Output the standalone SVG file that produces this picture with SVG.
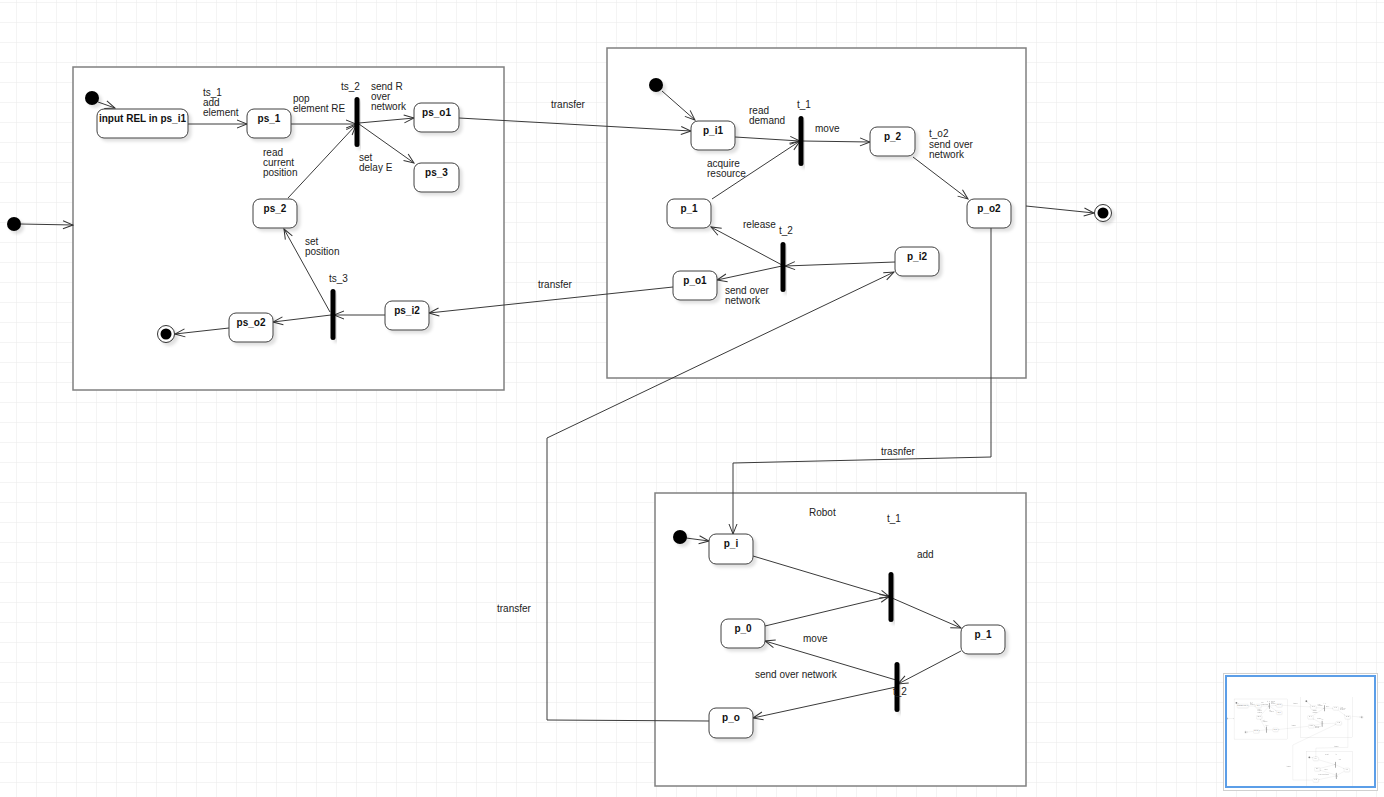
<svg xmlns="http://www.w3.org/2000/svg" xmlns:xlink="http://www.w3.org/1999/xlink" width="1384" height="797" viewBox="0 0 1384 797">
  <defs>
    <pattern id="grid" x="16" y="2" width="20" height="20" patternUnits="userSpaceOnUse">
      <path d="M0,0 H20 M0,0 V20" fill="none" stroke="#e9e9e9" stroke-width="1"/>
    </pattern>
    <filter id="shadow" x="-30%" y="-30%" width="160%" height="160%">
      <feDropShadow dx="3" dy="3" stdDeviation="1.5" flood-color="#000" flood-opacity="0.12"/>
    </filter>
    <marker id="open" markerWidth="12" markerHeight="10" refX="11" refY="5" orient="auto" markerUnits="userSpaceOnUse">
      <path d="M1,1 L11,5 L1,9" fill="none" stroke="#333" stroke-width="1"/>
    </marker>
    <clipPath id="miniClip">
      <rect x="1227" y="677" width="147" height="109"/>
    </clipPath>
  </defs>
  <style>
    .frame { fill: #fff; stroke: #808080; stroke-width: 1.5; }
    .node rect.box { fill: #fff; stroke: #404040; stroke-width: 1; filter: url(#shadow); }
    .node text { font-family: "Liberation Sans", Arial, sans-serif; font-size: 10px; font-weight: bold; fill: #111; text-anchor: middle; }
    .bar { fill: #000; filter: url(#shadow); }
    .dot { fill: #000; filter: url(#shadow); }
    .ring { fill: #fff; stroke: #333; stroke-width: 1; filter: url(#shadow); }
    .edge { fill: none; stroke: #3a3a3a; stroke-width: 1; marker-end: url(#open); }
    .plain { fill: none; stroke: #3a3a3a; stroke-width: 1; }
    .lbl { font-family: "Liberation Sans", Arial, sans-serif; font-size: 10px; fill: #222; }
  </style>

  <!-- canvas background with grid -->
  <rect x="0" y="0" width="1384" height="797" fill="#fff"/>
  <rect x="0" y="0" width="1384" height="797" fill="url(#grid)"/>

  <g id="diagram">
    <!-- composite state frames -->
    <g id="frames">
      <rect id="frame-producer" class="frame" x="73" y="67" width="431" height="323"/>
      <rect id="frame-plant" class="frame" x="607" y="48" width="419" height="330"/>
      <rect id="frame-robot" class="frame" x="655" y="493" width="371" height="293"/>
    </g>

    <!-- transitions -->
    <g id="connectors">
      <line class="edge" x1="21" y1="224" x2="73" y2="225"/>
      <line class="edge" x1="98" y1="102" x2="115" y2="108"/>
      <line class="edge" x1="188" y1="124" x2="247" y2="124"/>
      <line class="edge" x1="291" y1="124" x2="356" y2="124"/>
      <line class="edge" x1="359" y1="123" x2="414" y2="118"/>
      <line class="edge" x1="359" y1="124" x2="414" y2="163"/>
      <line class="edge" x1="288" y1="198" x2="356" y2="125"/>
      <line class="edge" x1="385" y1="315" x2="334" y2="315"/>
      <line class="edge" x1="331" y1="315" x2="273" y2="322"/>
      <line class="edge" x1="330" y1="312" x2="284" y2="229"/>
      <line class="edge" x1="229" y1="328" x2="175" y2="334"/>
      <line class="edge" x1="459" y1="118" x2="691" y2="131"/>
      <line class="edge" x1="673" y1="287" x2="429" y2="313"/>

      <line class="edge" x1="662" y1="91" x2="695" y2="120"/>
      <line class="edge" x1="735" y1="137" x2="800" y2="141"/>
      <line class="edge" x1="712" y1="199" x2="800" y2="141"/>
      <line class="edge" x1="803" y1="141" x2="870" y2="142"/>
      <line class="edge" x1="913" y1="157" x2="968" y2="199"/>
      <line class="edge" x1="1026" y1="206" x2="1094" y2="213"/>
      <line class="edge" x1="782" y1="265" x2="711" y2="227"/>
      <line class="edge" x1="895" y1="262" x2="785" y2="266"/>
      <line class="edge" x1="782" y1="266" x2="717" y2="280"/>
      <polyline class="edge" points="709,721 547,720 547,438 894,272"/>
      <polyline class="edge" points="991,228 991,457 733,463 733,534"/>

      <line class="edge" x1="686" y1="538" x2="709" y2="541"/>
      <line class="edge" x1="753" y1="556" x2="890" y2="597"/>
      <line class="edge" x1="765" y1="626" x2="890" y2="596"/>
      <line class="edge" x1="892" y1="598" x2="961" y2="628"/>
      <line class="edge" x1="961" y1="651" x2="898" y2="684"/>
      <line class="edge" x1="896" y1="680" x2="765" y2="641"/>
      <line class="edge" x1="896" y1="687" x2="753" y2="718"/>
    </g>

    <!-- pseudo states -->
    <g id="init-main"><circle class="dot" cx="14" cy="224" r="7"/></g>
    <g id="init-producer"><circle class="dot" cx="92" cy="98" r="7"/></g>
    <g id="init-plant"><circle class="dot" cx="656" cy="85" r="7"/></g>
    <g id="init-robot"><circle class="dot" cx="680" cy="537" r="7"/></g>
    <g id="final-producer"><circle class="ring" cx="166" cy="334" r="8.5"/><circle cx="166" cy="334" r="5.5" fill="#000"/></g>
    <g id="final-main"><circle class="ring" cx="1103" cy="213" r="8.5"/><circle cx="1103" cy="213" r="5.5" fill="#000"/></g>

    <!-- fork / join bars -->
    <g id="ts_2"><rect class="bar" x="354.5" y="97" width="5" height="50" rx="2.5"/></g>
    <g id="ts_3"><rect class="bar" x="330.5" y="289" width="5" height="51" rx="2.5"/></g>
    <g id="t_1"><rect class="bar" x="798.5" y="116" width="5" height="50" rx="2.5"/></g>
    <g id="t_2"><rect class="bar" x="780.5" y="242" width="5" height="50" rx="2.5"/></g>
    <g id="robot-t_1"><rect class="bar" x="888.5" y="572" width="5" height="50" rx="2.5"/></g>
    <g id="robot-t_2"><rect class="bar" x="894.5" y="662" width="5" height="50" rx="2.5"/></g>

    <!-- states: producer -->
    <g id="input-rel" class="node"><rect class="box" x="97" y="109" width="91" height="29" rx="7"/><text x="142.5" y="122">input REL in ps_i1</text></g>
    <g id="ps_1" class="node"><rect class="box" x="247" y="109" width="44" height="29" rx="7"/><text x="269" y="122">ps_1</text></g>
    <g id="ps_o1" class="node"><rect class="box" x="414" y="103" width="45" height="29" rx="7"/><text x="436.5" y="116">ps_o1</text></g>
    <g id="ps_3" class="node"><rect class="box" x="414" y="163" width="45" height="29" rx="7"/><text x="436.5" y="176">ps_3</text></g>
    <g id="ps_2" class="node"><rect class="box" x="253" y="199" width="44" height="29" rx="7"/><text x="275" y="212">ps_2</text></g>
    <g id="ps_o2" class="node"><rect class="box" x="229" y="313" width="44" height="29" rx="7"/><text x="251" y="326">ps_o2</text></g>
    <g id="ps_i2" class="node"><rect class="box" x="385" y="301" width="44" height="29" rx="7"/><text x="407" y="314">ps_i2</text></g>

    <!-- states: plant -->
    <g id="p_i1" class="node"><rect class="box" x="691" y="121" width="44" height="29" rx="7"/><text x="713" y="134">p_i1</text></g>
    <g id="p_2" class="node"><rect class="box" x="870" y="127" width="45" height="29" rx="7"/><text x="892.5" y="140">p_2</text></g>
    <g id="p_o2" class="node"><rect class="box" x="967" y="199" width="44" height="29" rx="7"/><text x="989" y="212">p_o2</text></g>
    <g id="p_1" class="node"><rect class="box" x="667" y="199" width="44" height="29" rx="7"/><text x="689" y="212">p_1</text></g>
    <g id="p_i2" class="node"><rect class="box" x="895" y="247" width="44" height="29" rx="7"/><text x="917" y="260">p_i2</text></g>
    <g id="p_o1" class="node"><rect class="box" x="673" y="271" width="44" height="29" rx="7"/><text x="695" y="284">p_o1</text></g>

    <!-- states: robot -->
    <g id="robot-p_i" class="node"><rect class="box" x="709" y="534" width="44" height="30" rx="7"/><text x="731" y="547">p_i</text></g>
    <g id="robot-p_0" class="node"><rect class="box" x="721" y="619" width="44" height="29" rx="7"/><text x="743" y="632">p_0</text></g>
    <g id="robot-p_1" class="node"><rect class="box" x="961" y="625" width="44" height="29" rx="7"/><text x="983" y="638">p_1</text></g>
    <g id="robot-p_o" class="node"><rect class="box" x="709" y="708" width="44" height="30" rx="7"/><text x="731" y="721">p_o</text></g>

    <!-- labels -->
    <g id="labels" class="lbl">
      <text x="203" y="96">ts_1</text>
      <text x="203" y="106">add</text>
      <text x="203" y="116">element</text>
      <text x="293" y="102">pop</text>
      <text x="293" y="112">element RE</text>
      <text x="341" y="90">ts_2</text>
      <text x="371" y="90">send R</text>
      <text x="371" y="100">over</text>
      <text x="371" y="110">network</text>
      <text x="263" y="156">read</text>
      <text x="263" y="166">current</text>
      <text x="263" y="176">position</text>
      <text x="359" y="161">set</text>
      <text x="359" y="171">delay E</text>
      <text x="305" y="245">set</text>
      <text x="305" y="255">position</text>
      <text x="329" y="282">ts_3</text>
      <text x="551" y="108">transfer</text>
      <text x="538" y="288">transfer</text>
      <text x="497" y="612">transfer</text>
      <text x="881" y="455">trasnfer</text>

      <text x="749" y="114">read</text>
      <text x="749" y="124">demand</text>
      <text x="797" y="108">t_1</text>
      <text x="815" y="132">move</text>
      <text x="929" y="137">t_o2</text>
      <text x="929" y="148">send over</text>
      <text x="929" y="158">network</text>
      <text x="707" y="167">acquire</text>
      <text x="707" y="177">resource</text>
      <text x="743" y="228">release</text>
      <text x="779" y="234">t_2</text>
      <text x="725" y="294">send over</text>
      <text x="725" y="304">network</text>

      <text x="809" y="516">Robot</text>
      <text x="887" y="522">t_1</text>
      <text x="917" y="558">add</text>
      <text x="803" y="642">move</text>
      <text x="755" y="678">send over network</text>
      <text x="893" y="695">t_2</text>
    </g>
  </g>

  <!-- overview panel -->
  <g id="overview">
    <rect x="1223.5" y="673.5" width="154" height="117" fill="#fff" stroke="#d0d0d0" stroke-width="1"/>
    <g clip-path="url(#miniClip)" opacity="0.5">
      <use href="#diagram" xlink:href="#diagram" transform="translate(1225 690.7) scale(0.124)"/>
    </g>
    <rect x="1226" y="676" width="149" height="111" fill="none" stroke="#5b9ee8" stroke-width="2"/>
  </g>
</svg>
